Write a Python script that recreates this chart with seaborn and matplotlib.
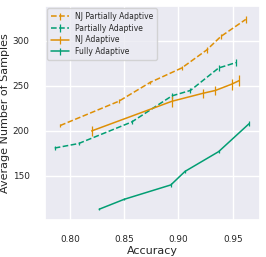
import matplotlib
matplotlib.use('Agg')
import matplotlib.pyplot as plt
import seaborn as sns

# accuracy vs average number of samples
nj_partial_x = [0.791, 0.845, 0.874, 0.903, 0.926, 0.939, 0.962]
nj_partial_y = [206, 233, 254, 270, 290, 305, 324]
nj_partial_err = [2, 2, 2, 2, 3, 3, 4]

partial_x = [0.786, 0.808, 0.857, 0.894, 0.911, 0.937, 0.953]
partial_y = [181, 186, 210, 239, 245, 270, 276]
partial_err = [2, 2, 2, 3, 3, 3, 4]

nj_adaptive_x = [0.820, 0.894, 0.923, 0.934, 0.949, 0.956]
nj_adaptive_y = [200, 233, 242, 245, 252, 256]
nj_adaptive_err = [6, 6, 5, 5, 6, 6]

fully_x = [0.827, 0.850, 0.893, 0.906, 0.937, 0.965]
fully_y = [113, 124, 140, 155, 177, 208]
fully_err = [1, 1, 2, 2, 2, 3]

sns.set_theme(style='darkgrid')
pal = sns.color_palette('colorblind')
orange, green = pal[1], pal[2]

fig, ax = plt.subplots(figsize=(2.66, 2.57), dpi=100)
ax.errorbar(nj_partial_x, nj_partial_y, yerr=nj_partial_err, color=orange,
            linestyle='--', lw=1.1, elinewidth=0.9, label='NJ Partially Adaptive')
ax.errorbar(partial_x, partial_y, yerr=partial_err, color=green,
            linestyle='--', lw=1.1, elinewidth=0.9, label='Partially Adaptive')
ax.errorbar(nj_adaptive_x, nj_adaptive_y, yerr=nj_adaptive_err, color=orange,
            linestyle='-', lw=1.1, elinewidth=0.9, label='NJ Adaptive')
ax.errorbar(fully_x, fully_y, yerr=fully_err, color=green,
            linestyle='-', lw=1.1, elinewidth=0.9, label='Fully Adaptive')

ax.set_xlim(0.777, 0.975)
ax.set_ylim(101, 339)
ax.set_xticks([0.80, 0.85, 0.90, 0.95])
ax.set_yticks([150, 200, 250, 300])
ax.tick_params(labelsize=6.4, pad=5)
ax.set_xlabel('Accuracy', fontsize=8, labelpad=1)
ax.set_ylabel('Average Number of Samples', fontsize=8, labelpad=2)
ax.legend(loc='upper left', fontsize=5.5, handlelength=2.3, borderpad=0.5,
          labelspacing=0.35, borderaxespad=0.3)

fig.subplots_adjust(left=0.169, right=0.977, bottom=0.144, top=0.977)
fig.savefig('out.png', dpi=100)
